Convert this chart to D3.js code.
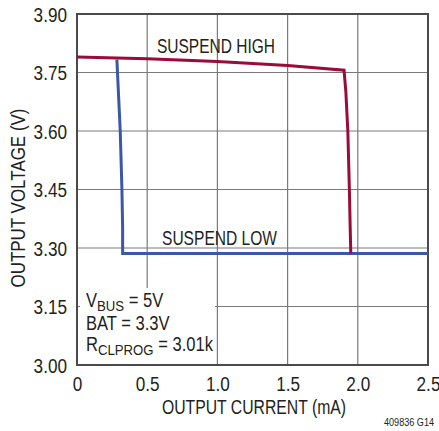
<!DOCTYPE html>
<html><head><meta charset="utf-8">
<script src="https://cdn.jsdelivr.net/npm/d3@7"></script>
<style>
html,body{margin:0;padding:0;background:#fff;}
text{font-family:"Liberation Sans",Arial,sans-serif;fill:#231f20;}
</style></head>
<body>
<svg id="chart" width="439" height="431"></svg>
<script>
const xTicks = [0, 0.5, 1.0, 1.5, 2.0, 2.5];
const xTickLabels = ["0", "0.5", "1.0", "1.5", "2.0", "2.5"];
const yTicks = [3.00, 3.15, 3.30, 3.45, 3.60, 3.75, 3.90];
const yTickLabels = ["3.00", "3.15", "3.30", "3.45", "3.60", "3.75", "3.90"];

const highCurrent = [0, 0.5, 1.0, 1.5, 1.902, 1.915, 1.929, 1.940, 1.946, 1.950];
const highVoltage = [3.790, 3.785, 3.778, 3.768, 3.756, 3.700, 3.600, 3.450, 3.350, 3.286];

const lowCurrent = [0.284, 0.308, 0.320, 0.325, 0.325, 2.5];
const lowVoltage = [3.783, 3.600, 3.450, 3.350, 3.286, 3.286];

const seriesNames = ["SUSPEND HIGH", "SUSPEND LOW"];
const seriesColors = ["#9b0b37", "#3b58a6"];

const svg = d3.select("#chart");
const L = 77, R = 428, T = 14, B = 365;
const x = d3.scaleLinear().domain([0, 2.5]).range([L, R]);
const y = d3.scaleLinear().domain([3.0, 3.9]).range([B, T]);
const FS = 19.5, SX = 0.88;

// grid
const grid = svg.append("g");
grid.selectAll("line.v").data(xTicks.slice(1, -1)).join("line")
  .attr("x1", d => x(d)).attr("x2", d => x(d)).attr("y1", T).attr("y2", B)
  .attr("stroke", "#7a7a7a").attr("stroke-width", 1.2);
grid.selectAll("line.h").data(yTicks.slice(1, -1)).join("line")
  .attr("y1", d => y(d)).attr("y2", d => y(d)).attr("x1", L).attr("x2", R)
  .attr("stroke", "#7a7a7a").attr("stroke-width", 1.2);

// annotation box background (covers grid)
svg.append("rect").attr("x", 80).attr("y", 288).attr("width", 135).attr("height", B - 288 - 1)
  .attr("fill", "#fff");

// frame
svg.append("rect").attr("x", L).attr("y", T).attr("width", R - L).attr("height", B - T)
  .attr("fill", "none").attr("stroke", "#4a4a4a").attr("stroke-width", 2);

// axis tick labels using d3 axes
const xAxis = d3.axisBottom(x).tickValues(xTicks).tickFormat((d, i) => xTickLabels[i]).tickSize(0).tickPadding(0);
const gx = svg.append("g").attr("transform", `translate(0,${B})`).call(xAxis);
gx.select(".domain").remove();
gx.selectAll("text").attr("dy", null).attr("y", 0).attr("x", 0)
  .attr("transform", `translate(0,25.5) scale(${SX},1)`).attr("font-size", FS)
  .attr("font-family", "'Liberation Sans',Arial,sans-serif").attr("fill", "#231f20");

const yAxis = d3.axisLeft(y).tickValues(yTicks).tickFormat((d, i) => yTickLabels[i]).tickSize(0).tickPadding(0);
const gy = svg.append("g").attr("transform", `translate(${L},0)`).call(yAxis);
gy.select(".domain").remove();
gy.selectAll("text").attr("dy", null).attr("x", 0).attr("y", 0)
  .attr("transform", `translate(-10,7) scale(${SX},1)`).attr("font-size", FS)
  .attr("font-family", "'Liberation Sans',Arial,sans-serif").attr("fill", "#231f20");

// axis titles
svg.append("text").attr("x", 254).attr("y", 414).attr("text-anchor", "middle")
  .attr("font-size", FS).attr("textLength", 184).attr("lengthAdjust", "spacingAndGlyphs")
  .text("OUTPUT CURRENT (mA)");
svg.append("text").attr("transform", "translate(25,198) rotate(-90)").attr("text-anchor", "middle")
  .attr("font-size", FS).attr("textLength", 179).attr("lengthAdjust", "spacingAndGlyphs")
  .text("OUTPUT VOLTAGE (V)");

// curves
const line = d3.line().x(d => x(d[0])).y(d => y(d[1]));
const seriesData = [
  highCurrent.map((c, i) => [c, highVoltage[i]]),
  lowCurrent.map((c, i) => [c, lowVoltage[i]])
];
[1, 0].forEach(k => {
  svg.append("path").datum(seriesData[k]).attr("d", line)
    .attr("fill", "none").attr("stroke", seriesColors[k]).attr("stroke-width", 3)
    .attr("stroke-linejoin", "miter");
});

// series labels
svg.append("text").attr("x", 157).attr("y", 52.5).attr("font-size", FS)
  .attr("textLength", 118).attr("lengthAdjust", "spacingAndGlyphs").text(seriesNames[0]);
svg.append("text").attr("x", 162).attr("y", 244.5).attr("font-size", FS)
  .attr("textLength", 115).attr("lengthAdjust", "spacingAndGlyphs").text(seriesNames[1]);

// annotation
const ann = svg.append("g").attr("font-size", FS).attr("transform", "translate(86,0) scale(0.85,1)");
const t1 = ann.append("text").attr("x", 0).attr("y", 307.5);
t1.append("tspan").text("V");
t1.append("tspan").attr("font-size", 15.5).attr("dy", 3.5).text("BUS");
t1.append("tspan").attr("dy", -3.5).text(" = 5V");
ann.append("text").attr("x", 0).attr("y", 330).text("BAT = 3.3V");
const t3 = ann.append("text").attr("x", 0).attr("y", 351.5);
t3.append("tspan").text("R");
t3.append("tspan").attr("font-size", 15.5).attr("dy", 3.5).text("CLPROG");
t3.append("tspan").attr("dy", -3.5).text(" = 3.01k");

// figure id
svg.append("text").attr("x", 434).attr("y", 426).attr("text-anchor", "end")
  .attr("font-size", 10).attr("textLength", 50).attr("lengthAdjust", "spacingAndGlyphs")
  .text("409836 G14");
</script>
</body></html>
